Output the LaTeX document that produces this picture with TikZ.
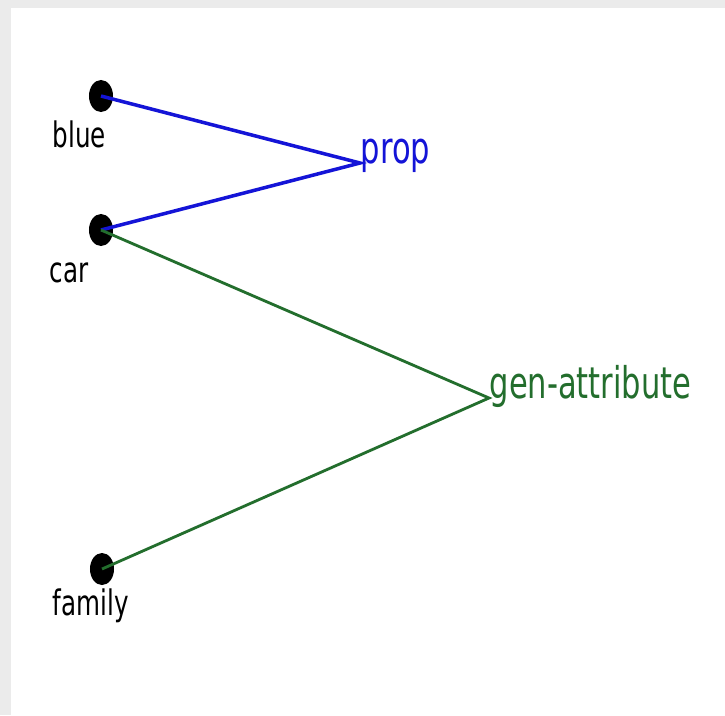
\documentclass[tikz,border=0pt]{standalone}
\usepackage{fontspec}
\setmainfont{DejaVu Sans}[FakeStretch=0.7]
\usetikzlibrary{shapes.geometric}

\definecolor{propblue}{RGB}{20,20,215}
\definecolor{attrgreen}{RGB}{35,110,45}

\tikzset{
  dot/.style = {ellipse, fill=black, inner sep=0pt, minimum width=0.24cm, minimum height=0.32cm},
  word/.style = {anchor=base west, inner sep=0pt, font=\fontsize{10}{12}\selectfont},
  rel/.style = {anchor=base west, inner sep=0pt, font=\fontsize{12.4}{14}\selectfont}
}

\begin{document}
\begin{tikzpicture}[x=0.01cm, y=-0.01cm]
\useasboundingbox (0,0) rectangle (725,715);
\fill[black!8] (0,0) rectangle (725,715);
\fill[white] (11,8) rectangle (725,715);
% words
\node[dot] (blue) at (101,96) {};
\node[dot] (car) at (101,230) {};
\node[dot] (family) at (102,569) {};
\node[word] (lblue) at (52,147) {blue};
\node[word] (lcar) at (49,282) {car};
\node[word] (lfamily) at (52,615) {family};
% relations
\node[rel, text=propblue] (prop) at (360,163) {prop};
\node[rel, text=attrgreen] (genattr) at (489,398) {gen-attribute};
\draw[propblue, line width=1pt] (blue.center) -- (prop.base west) -- (car.center);
\draw[attrgreen, line width=0.8pt] (car.center) -- (genattr.base west) -- (family.center);
\end{tikzpicture}
\end{document}
